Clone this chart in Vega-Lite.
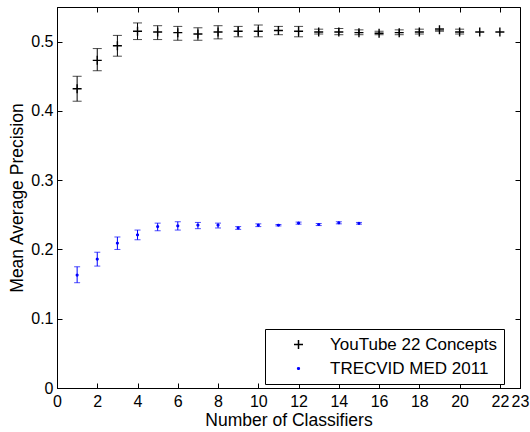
{
  "$schema": "https://vega.github.io/schema/vega-lite/v6.json",
  "width": 463,
  "height": 381,
  "autosize": {"type": "none"},
  "padding": {"left": 57, "top": 7, "right": 10, "bottom": 44},
  "config": {
    "font": "Liberation Sans",
    "view": {"stroke": "black", "strokeWidth": 1},
    "axis": {
      "grid": false,
      "domainColor": "black",
      "tickColor": "black",
      "tickSize": -5,
      "labelColor": "black",
      "labelFontSize": 16,
      "labelFont": "Liberation Sans",
      "titleFont": "Liberation Sans",
      "titleFontSize": 17.5,
      "titleFontWeight": "normal",
      "titleColor": "black"
    },
    "legend": {
      "orient": "none",
      "legendX": 208,
      "legendY": 322,
      "strokeColor": "black",
      "fillColor": "white",
      "padding": 7,
      "symbolOffset": 18,
      "labelOffset": 23,
      "rowPadding": 6,
      "labelFontSize": 17,
      "labelFont": "Liberation Sans",
      "labelColor": "black",
      "labelLimit": 300
    }
  },
  "data": {
    "values": [
      {"series": "YouTube 22 Concepts", "n": 1, "map": 0.432, "lo": 0.414, "hi": 0.450},
      {"series": "YouTube 22 Concepts", "n": 2, "map": 0.473, "lo": 0.458, "hi": 0.490},
      {"series": "YouTube 22 Concepts", "n": 3, "map": 0.494, "lo": 0.479, "hi": 0.509},
      {"series": "YouTube 22 Concepts", "n": 4, "map": 0.515, "lo": 0.503, "hi": 0.527},
      {"series": "YouTube 22 Concepts", "n": 5, "map": 0.514, "lo": 0.503, "hi": 0.523},
      {"series": "YouTube 22 Concepts", "n": 6, "map": 0.513, "lo": 0.502, "hi": 0.522},
      {"series": "YouTube 22 Concepts", "n": 7, "map": 0.511, "lo": 0.502, "hi": 0.520},
      {"series": "YouTube 22 Concepts", "n": 8, "map": 0.514, "lo": 0.504, "hi": 0.523},
      {"series": "YouTube 22 Concepts", "n": 9, "map": 0.515, "lo": 0.507, "hi": 0.522},
      {"series": "YouTube 22 Concepts", "n": 10, "map": 0.515, "lo": 0.507, "hi": 0.524},
      {"series": "YouTube 22 Concepts", "n": 11, "map": 0.516, "lo": 0.510, "hi": 0.522},
      {"series": "YouTube 22 Concepts", "n": 12, "map": 0.515, "lo": 0.507, "hi": 0.522},
      {"series": "YouTube 22 Concepts", "n": 13, "map": 0.514, "lo": 0.511, "hi": 0.518},
      {"series": "YouTube 22 Concepts", "n": 14, "map": 0.514, "lo": 0.510, "hi": 0.519},
      {"series": "YouTube 22 Concepts", "n": 15, "map": 0.513, "lo": 0.510, "hi": 0.517},
      {"series": "YouTube 22 Concepts", "n": 16, "map": 0.512, "lo": 0.510, "hi": 0.515},
      {"series": "YouTube 22 Concepts", "n": 17, "map": 0.513, "lo": 0.510, "hi": 0.517},
      {"series": "YouTube 22 Concepts", "n": 18, "map": 0.514, "lo": 0.511, "hi": 0.518},
      {"series": "YouTube 22 Concepts", "n": 19, "map": 0.517, "lo": 0.515, "hi": 0.519},
      {"series": "YouTube 22 Concepts", "n": 20, "map": 0.514, "lo": 0.511, "hi": 0.518},
      {"series": "YouTube 22 Concepts", "n": 21, "map": 0.514},
      {"series": "YouTube 22 Concepts", "n": 22, "map": 0.514},
      {"series": "TRECVID MED 2011", "n": 1, "map": 0.163, "lo": 0.152, "hi": 0.175},
      {"series": "TRECVID MED 2011", "n": 2, "map": 0.186, "lo": 0.176, "hi": 0.196},
      {"series": "TRECVID MED 2011", "n": 3, "map": 0.209, "lo": 0.200, "hi": 0.218},
      {"series": "TRECVID MED 2011", "n": 4, "map": 0.221, "lo": 0.214, "hi": 0.228},
      {"series": "TRECVID MED 2011", "n": 5, "map": 0.233, "lo": 0.227, "hi": 0.238},
      {"series": "TRECVID MED 2011", "n": 6, "map": 0.234, "lo": 0.228, "hi": 0.240},
      {"series": "TRECVID MED 2011", "n": 7, "map": 0.235, "lo": 0.230, "hi": 0.239},
      {"series": "TRECVID MED 2011", "n": 8, "map": 0.235, "lo": 0.231, "hi": 0.238},
      {"series": "TRECVID MED 2011", "n": 9, "map": 0.231, "lo": 0.229, "hi": 0.233},
      {"series": "TRECVID MED 2011", "n": 10, "map": 0.235, "lo": 0.233, "hi": 0.237},
      {"series": "TRECVID MED 2011", "n": 11, "map": 0.235, "lo": 0.234, "hi": 0.236},
      {"series": "TRECVID MED 2011", "n": 12, "map": 0.238, "lo": 0.2365, "hi": 0.2395},
      {"series": "TRECVID MED 2011", "n": 13, "map": 0.236, "lo": 0.2345, "hi": 0.2375},
      {"series": "TRECVID MED 2011", "n": 14, "map": 0.2385, "lo": 0.237, "hi": 0.240},
      {"series": "TRECVID MED 2011", "n": 15, "map": 0.2377, "lo": 0.2365, "hi": 0.239}
    ]
  },
  "resolve": {"axis": {"x": "independent", "y": "independent"}},
  "layer": [
    {
      "mark": {"type": "rule", "strokeWidth": 1},
      "encoding": {
        "x": {"field": "n", "type": "quantitative",
              "scale": {"domain": [0, 23], "nice": false, "zero": true},
              "axis": {"orient": "bottom", "values": [0,2,4,6,8,10,12,14,16,18,20,22,23], "title": "Number of Classifiers", "labelPadding": 10, "titlePadding": 2, "labelFlush": false}},
        "y": {"field": "lo", "type": "quantitative",
              "scale": {"domain": [0, 0.55], "nice": false},
              "axis": {"orient": "left", "values": [0,0.1,0.2,0.3,0.4,0.5], "format": "~g", "title": "Mean Average Precision", "labelPadding": 9, "titlePadding": 4}},
        "y2": {"field": "hi"},
        "color": {"condition": {"test": "datum.series === 'YouTube 22 Concepts'", "value": "black"}, "value": "blue"}
      }
    },
    {
      "transform": [
        {"filter": "datum.series === 'YouTube 22 Concepts'"},
        {"fold": ["lo", "hi"], "as": ["bound", "v"]}
      ],
      "mark": {"type": "tick", "orient": "horizontal", "thickness": 1, "size": 9, "color": "black"},
      "encoding": {
        "x": {"field": "n", "type": "quantitative", "axis": null},
        "y": {"field": "v", "type": "quantitative", "axis": null}
      }
    },
    {
      "transform": [
        {"filter": "datum.series === 'TRECVID MED 2011'"},
        {"fold": ["lo", "hi"], "as": ["bound", "v"]}
      ],
      "mark": {"type": "tick", "orient": "horizontal", "thickness": 1, "size": 6, "color": "blue"},
      "encoding": {
        "x": {"field": "n", "type": "quantitative", "axis": null},
        "y": {"field": "v", "type": "quantitative", "axis": null}
      }
    },
    {
      "mark": {"type": "point", "filled": false, "strokeWidth": 1.4, "opacity": 1},
      "encoding": {
        "x": {"field": "n", "type": "quantitative",
              "axis": {"orient": "top", "values": [0,2,4,6,8,10,12,14,16,18,20,22,23], "labels": false, "title": null, "domain": false}},
        "y": {"field": "map", "type": "quantitative",
              "axis": {"orient": "right", "values": [0,0.1,0.2,0.3,0.4,0.5], "labels": false, "title": null, "domain": false}},
        "color": {"field": "series", "type": "nominal",
                  "scale": {"domain": ["YouTube 22 Concepts", "TRECVID MED 2011"], "range": ["black", "blue"]},
                  "legend": {"title": null}},
        "shape": {"field": "series", "type": "nominal",
                  "scale": {"domain": ["YouTube 22 Concepts", "TRECVID MED 2011"], "range": ["M-1,0H1M0,-1V1", "circle"]},
                  "legend": {"title": null}},
        "size": {"field": "series", "type": "nominal",
                 "scale": {"domain": ["YouTube 22 Concepts", "TRECVID MED 2011"], "range": [81, 3]},
                 "legend": {"title": null}}
      }
    }
  ]
}
